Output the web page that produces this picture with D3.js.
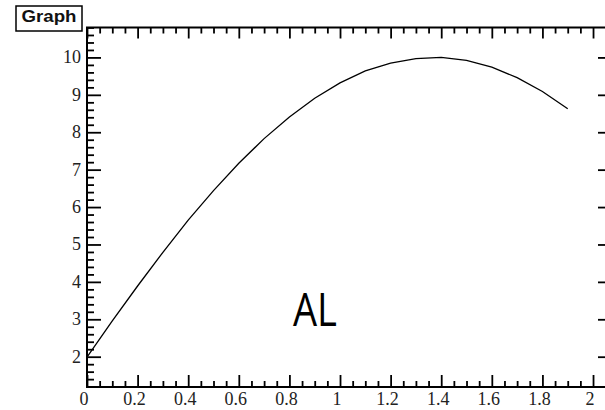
<!DOCTYPE html>
<html>
<head>
<meta charset="utf-8">
<script src="https://cdn.jsdelivr.net/npm/d3@7"></script>
<style>
  html, body { margin: 0; padding: 0; background: #fff; }
  svg { display: block; }
</style>
</head>
<body>
<svg id="chart" width="605" height="410"></svg>
<script>
// ---- data ----
const xValues = [0, 0.1, 0.2, 0.3, 0.4, 0.5, 0.6, 0.7, 0.8, 0.9,
                 1.0, 1.1, 1.2, 1.3, 1.4, 1.5, 1.6, 1.7, 1.8, 1.9];
const yValues = [1.99, 2.96, 3.89, 4.79, 5.65, 6.44, 7.17, 7.83, 8.41, 8.91,
                 9.32, 9.64, 9.85, 9.97, 10.00, 9.92, 9.74, 9.46, 9.09, 8.63];
const xTickValues = [0, 0.2, 0.4, 0.6, 0.8, 1, 1.2, 1.4, 1.6, 1.8, 2];
const xTickLabels = ["0", "0.2", "0.4", "0.6", "0.8", "1", "1.2", "1.4", "1.6", "1.8", "2"];
const yTickValues = [2, 3, 4, 5, 6, 7, 8, 9, 10];
const yTickLabels = ["2", "3", "4", "5", "6", "7", "8", "9", "10"];
const xDomain = [0, 2.075];
const yDomain = [1.19, 10.80];
const titleText = "Graph";
const drawOptionText = "AL";

// ---- layout ----
const svg = d3.select("#chart");
const frame = { left: 87, right: 612, top: 27.5, bottom: 387 };

const x = d3.scaleLinear().domain(xDomain).range([frame.left, frame.right]);
const y = d3.scaleLinear().domain(yDomain).range([frame.bottom, frame.top]);

const xMinor = d3.range(0, 2.0751, 0.05).filter(v => Math.abs(v / 0.2 - Math.round(v / 0.2)) > 1e-6);
const yMinor = d3.range(1.2, 10.801, 0.2).filter(v => Math.abs(v - Math.round(v)) > 1e-6);

const tickStroke = 1.8;

function styleAxis(g) {
  g.select(".domain").remove();
  g.selectAll("line").attr("stroke", "#000").attr("stroke-width", tickStroke);
  g.selectAll("text").remove();
}

// bottom axis (ticks pointing up)
svg.append("g").attr("transform", `translate(0,${frame.bottom})`)
  .call(d3.axisBottom(x).tickValues(xTickValues).tickSize(-12)).call(styleAxis);
svg.append("g").attr("transform", `translate(0,${frame.bottom})`)
  .call(d3.axisBottom(x).tickValues(xMinor).tickSize(-6)).call(styleAxis);
// top axis (ticks pointing down)
svg.append("g").attr("transform", `translate(0,${frame.top})`)
  .call(d3.axisTop(x).tickValues(xTickValues).tickSize(-11)).call(styleAxis);
svg.append("g").attr("transform", `translate(0,${frame.top})`)
  .call(d3.axisTop(x).tickValues(xMinor).tickSize(-6)).call(styleAxis);
// left axis (ticks pointing right)
svg.append("g").attr("transform", `translate(${frame.left},0)`)
  .call(d3.axisLeft(y).tickValues(yTickValues).tickSize(-14)).call(styleAxis);
svg.append("g").attr("transform", `translate(${frame.left},0)`)
  .call(d3.axisLeft(y).tickValues(yMinor).tickSize(-7)).call(styleAxis);
// right axis (ticks pointing left)
svg.append("g").attr("transform", `translate(${frame.right},0)`)
  .call(d3.axisRight(y).tickValues(yTickValues).tickSize(-14)).call(styleAxis);
svg.append("g").attr("transform", `translate(${frame.right},0)`)
  .call(d3.axisRight(y).tickValues(yMinor).tickSize(-7)).call(styleAxis);

// frame
svg.append("rect")
  .attr("x", frame.left).attr("y", frame.top)
  .attr("width", frame.right - frame.left).attr("height", frame.bottom - frame.top)
  .attr("fill", "none").attr("stroke", "#000").attr("stroke-width", 2);

// tick labels
svg.append("g").selectAll("text").data(xTickValues).join("text")
  .attr("x", d => x(d) - 3).attr("y", 405)
  .attr("text-anchor", "middle")
  .attr("font-family", "'Liberation Serif', 'DejaVu Serif', serif")
  .attr("font-size", 18).attr("fill", "#222")
  .text((d, i) => xTickLabels[i]);

svg.append("g").selectAll("text").data(yTickValues).join("text")
  .attr("x", frame.left - 6).attr("y", d => y(d) + 6)
  .attr("text-anchor", "end")
  .attr("font-family", "'Liberation Serif', 'DejaVu Serif', serif")
  .attr("font-size", 18).attr("fill", "#222")
  .text((d, i) => yTickLabels[i]);

// curve
const line = d3.line().x((d, i) => x(xValues[i])).y(d => y(d));
svg.append("path").datum(yValues)
  .attr("d", line)
  .attr("fill", "none").attr("stroke", "#000").attr("stroke-width", 1.3);

// title box
svg.append("rect")
  .attr("x", 16).attr("y", 6).attr("width", 66).attr("height", 25)
  .attr("fill", "#fff").attr("stroke", "#000").attr("stroke-width", 1.5);
svg.append("text")
  .attr("x", 49).attr("y", 22)
  .attr("text-anchor", "middle")
  .attr("font-family", "'Liberation Sans', Arial, sans-serif")
  .attr("font-weight", "bold").attr("font-size", 16)
  .attr("textLength", 55).attr("lengthAdjust", "spacingAndGlyphs")
  .attr("fill", "#111")
  .text(titleText);

// draw option label
svg.append("text")
  .attr("x", 293).attr("y", 326)
  .attr("font-family", "'Open Sans', 'Noto Sans', sans-serif")
  .attr("font-size", 46)
  .attr("textLength", 44).attr("lengthAdjust", "spacingAndGlyphs")
  .attr("fill", "#000")
  .text(drawOptionText);
</script>
</body>
</html>
